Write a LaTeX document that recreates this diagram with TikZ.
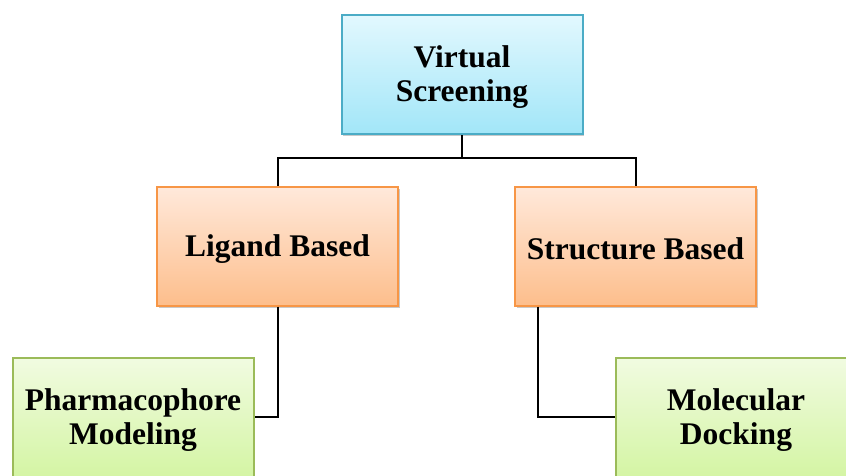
\documentclass[tikz,border=0pt]{standalone}
\usepackage{fontspec}
\setmainfont{Liberation Serif}
\usetikzlibrary{shadows}
\definecolor{blueedge}{HTML}{4BACC6}
\definecolor{bluetop}{HTML}{E2F8FE}
\definecolor{bluebot}{HTML}{A2E6F8}
\definecolor{orangeedge}{HTML}{F79646}
\definecolor{orangetop}{HTML}{FFE9DB}
\definecolor{orangebot}{HTML}{FDBE8C}
\definecolor{greenedge}{HTML}{9BBB59}
\definecolor{greentop}{HTML}{F1FBE1}
\definecolor{greenbot}{HTML}{D4F5A4}
\tikzset{
  box/.style={rectangle, minimum width=241pt, minimum height=119pt, line width=2pt,
    inner sep=0pt,
    drop shadow={shadow xshift=1.8pt, shadow yshift=-2pt, opacity=0.35, fill=black!60}},
  bluebox/.style={box, draw=blueedge, top color=bluetop, bottom color=bluebot},
  orangebox/.style={box, draw=orangeedge, top color=orangetop, bottom color=orangebot},
  greenbox/.style={box, draw=greenedge, top color=greentop, bottom color=greenbot},
  boxtext/.style={align=center, inner sep=0pt,
    font=\bfseries\fontsize{31.5}{34}\selectfont},
  link/.style={line width=2pt, black}
}
\begin{document}
\begin{tikzpicture}[x=1pt, y=-1pt]
\useasboundingbox (0,0) rectangle (846,475);
\clip (0,0) rectangle (846,475);
\fill[white] (0,0) rectangle (846,475);

% boxes
\node[bluebox] (vs) at (462,74.5) {};
\node[orangebox] (lb) at (277.5,246) {};
\node[orangebox] (sb) at (635.5,246) {};
\node[greenbox] (pm) at (133,417) {};
\node[greenbox] (md) at (736,417) {};

% junction where the top box splits into its two branches
\coordinate (split) at ([yshift=-23pt]vs.south);

% box captions
\node[boxtext] (vst) at ([yshift=-3pt]vs.center) {Virtual\\Screening};
\node[boxtext] (lbt) at ([yshift=-3pt]lb.center) {Ligand Based};
\node[boxtext] (sbt) at ([yshift=-3pt]sb.center) {Structure Based};
\node[boxtext] (pmt) at ([yshift=-3pt]pm.center) {Pharmacophore\\Modeling};
\node[boxtext] (mdt) at ([yshift=-3pt]md.center) {Molecular\\Docking};

% tree connectors
\draw[link] (vs.south) -- (split);
\draw[link] (split) -| (lb.north);
\draw[link] (split) -| (sb.north);
\draw[link] (lb.south) |- (pm.east);
\draw[link] ([xshift=24pt]sb.south west) |- (md.west);
\end{tikzpicture}
\end{document}
